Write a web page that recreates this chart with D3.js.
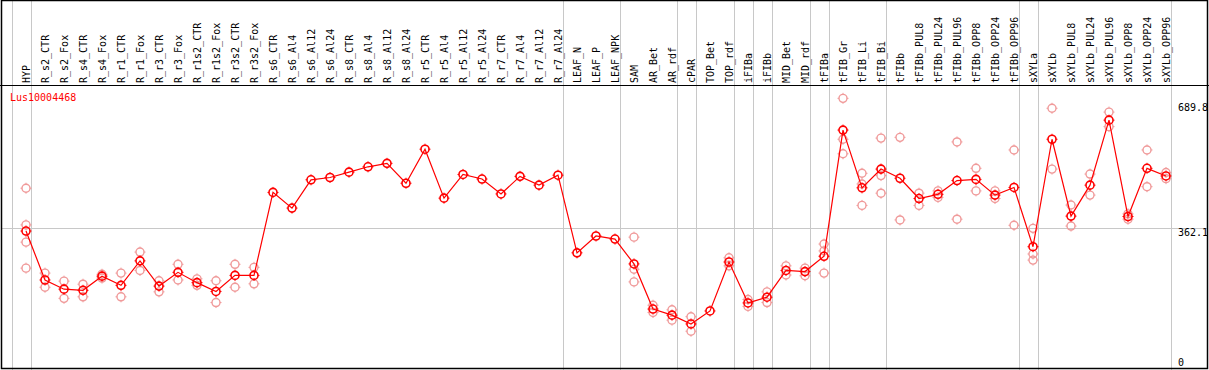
<!DOCTYPE html>
<html>
<head>
<meta charset="utf-8">
<script src="https://cdn.jsdelivr.net/npm/d3@7"></script>
<style>
  body { margin: 0; background: #fff; }
  svg text { font-family: "DejaVu Sans Mono", monospace; font-size: 10px; }
</style>
</head>
<body>
<svg width="1209" height="370"></svg>
<script>
var width = 1209, height = 370;

var geneName = "Lus10004468";

var samples = ["HYP", "R_s2_CTR", "R_s2_Fox", "R_s4_CTR", "R_s4_Fox", "R_r1_CTR", "R_r1_Fox",
  "R_r3_CTR", "R_r3_Fox", "R_r1s2_CTR", "R_r1s2_Fox", "R_r3s2_CTR", "R_r3s2_Fox",
  "R_s6_CTR", "R_s6_Al4", "R_s6_Al12", "R_s6_Al24", "R_s8_CTR", "R_s8_Al4", "R_s8_Al12", "R_s8_Al24",
  "R_r5_CTR", "R_r5_Al4", "R_r5_Al12", "R_r5_Al24", "R_r7_CTR", "R_r7_Al4", "R_r7_Al12", "R_r7_Al24",
  "LEAF_N", "LEAF_P", "LEAF_NPK", "SAM", "AR_Bet", "AR_rdf", "cPAR", "TOP_Bet", "TOP_rdf",
  "iFIBa", "iFIBb", "MID_Bet", "MID_rdf", "tFIBa", "tFIB_Gr", "tFIB_Li", "tFIB_Bi", "tFIBb",
  "tFIBb_PUL8", "tFIBb_PUL24", "tFIBb_PUL96", "tFIBb_OPP8", "tFIBb_OPP24", "tFIBb_OPP96",
  "sXYLa", "sXYLb", "sXYLb_PUL8", "sXYLb_PUL24", "sXYLb_PUL96", "sXYLb_OPP8", "sXYLb_OPP24", "sXYLb_OPP96"];

// mean expression per sample
var meanExpr = [355, 227, 203, 200, 237, 213, 277, 211, 247, 220, 197, 239, 239,
  456, 415, 489, 495, 509, 523, 532, 480, 569, 441, 503, 491, 452, 498, 475, 501,
  298, 342, 334, 269, 151, 135, 112, 146, 274, 167, 182, 252, 249, 289,
  619, 468, 517, 493, 440, 451, 487, 490, 449, 469,
  314, 595, 394, 475, 645, 393, 519, 499];

// individual replicates (empty = single sample)
var replicates = [
  [467, 371, 326, 258], [245, 208], [224, 179], [216, 183], [242, 232], [245, 183], [300, 252],
  [225, 196], [268, 227], [230, 213], [225, 168], [268, 208], [260, 217],
  [], [], [], [], [], [], [], [], [], [], [], [], [], [], [], [],
  [], [], [],
  [339, 255, 222], [161, 142], [149, 122], [131, 93], [], [285, 264],
  [176, 158], [196, 168], [264, 240], [258, 238], [321, 303, 245],
  [702, 595, 557], [506, 478, 422], [598, 500, 454], [600, 384],
  [454, 422], [460, 443], [588, 386], [519, 460], [460, 440], [567, 370],
  [362, 295, 279], [676, 517], [423, 368], [504, 449], [666, 628], [400, 386], [567, 471], [508, 492]];

// last sample of each block (vertical separators)
var groupEnds = ["HYP", "R_r7_Al24", "LEAF_NPK", "AR_rdf", "cPAR", "TOP_rdf", "iFIBa", "iFIBb",
  "MID_rdf", "tFIBa", "tFIB_Bi", "tFIBb_OPP96", "sXYLa", "sXYLb_OPP96"];

var yTicks = [0, 362.1, 689.8];

var svg = d3.select("svg");

var x = d3.scalePoint()
  .domain(samples)
  .range([26, 1166]);

var y = d3.scaleLinear()
  .domain([0, 689.8])
  .range([366.8, 103]);

var headerY = 85;
var sepOff = 4.5;

// vertical separators
var sepX = [x(samples[0]) - x.step() + sepOff].concat(groupEnds.map(function(s) { return x(s) + sepOff; }));
svg.append("g")
  .selectAll("line")
  .data(sepX)
  .enter().append("line")
  .attr("x1", function(d) { return Math.round(d) + 0.5; })
  .attr("x2", function(d) { return Math.round(d) + 0.5; })
  .attr("y1", 0).attr("y2", height)
  .attr("stroke", "#c8c8c8").attr("stroke-width", 1);

// horizontal grid line at middle tick
svg.append("line")
  .attr("x1", 1).attr("x2", 1207)
  .attr("y1", Math.round(y(yTicks[1])) + 0.5)
  .attr("y2", Math.round(y(yTicks[1])) + 0.5)
  .attr("stroke", "#c8c8c8");

// header line
svg.append("line")
  .attr("x1", 0).attr("x2", width)
  .attr("y1", headerY + 0.5).attr("y2", headerY + 0.5)
  .attr("stroke", "#000");

// frame
svg.append("rect")
  .attr("x", 1.5).attr("y", 0.5)
  .attr("width", 1206).attr("height", 368)
  .attr("fill", "none").attr("stroke", "#000").attr("stroke-width", 1.5);

// sample labels
svg.append("g")
  .selectAll("text")
  .data(samples)
  .enter().append("text")
  .attr("transform", function(d) { return "translate(" + (x(d) + 4) + "," + (headerY - 2) + ")rotate(-90)"; })
  .attr("fill", "#000")
  .text(function(d) { return d; });

// gene name
svg.append("text")
  .attr("x", 10).attr("y", 101)
  .attr("fill", "#ff0000")
  .text(geneName);

// y labels on right
svg.append("g")
  .selectAll("text")
  .data(yTicks)
  .enter().append("text")
  .attr("x", 1178)
  .attr("y", function(d) { return Math.min(y(d) + 8, 365.5); })
  .attr("fill", "#000")
  .text(function(d) { return d === 0 ? "0" : d3.format(".1f")(d); });

function marker(g, color, sw) {
  g.append("circle").attr("r", 4)
    .attr("fill", "none").attr("stroke", color).attr("stroke-width", sw);
  g.append("path")
    .attr("d", "M0,-5.5V-4M0,4V5.5M-5.5,0H-4M4,0H5.5")
    .attr("stroke", color).attr("stroke-width", 1);
}

// replicate points
var repPts = [];
samples.forEach(function(s, i) {
  replicates[i].forEach(function(v) { repPts.push({ s: s, v: v }); });
});
svg.append("g")
  .selectAll("g")
  .data(repPts)
  .enter().append("g")
  .attr("transform", function(d) { return "translate(" + x(d.s) + "," + y(d.v) + ")"; })
  .each(function() { marker(d3.select(this), "#f09a9a", 1.4); });

// mean line
var line = d3.line()
  .x(function(d, i) { return x(samples[i]); })
  .y(function(d) { return y(d); });

svg.append("path")
  .datum(meanExpr)
  .attr("d", line)
  .attr("fill", "none")
  .attr("stroke", "#ff0000")
  .attr("stroke-width", 1.2);

svg.append("g")
  .selectAll("g")
  .data(meanExpr)
  .enter().append("g")
  .attr("transform", function(d, i) { return "translate(" + x(samples[i]) + "," + y(d) + ")"; })
  .each(function() { marker(d3.select(this), "#ff0000", 1.6); });
</script>
</body>
</html>
